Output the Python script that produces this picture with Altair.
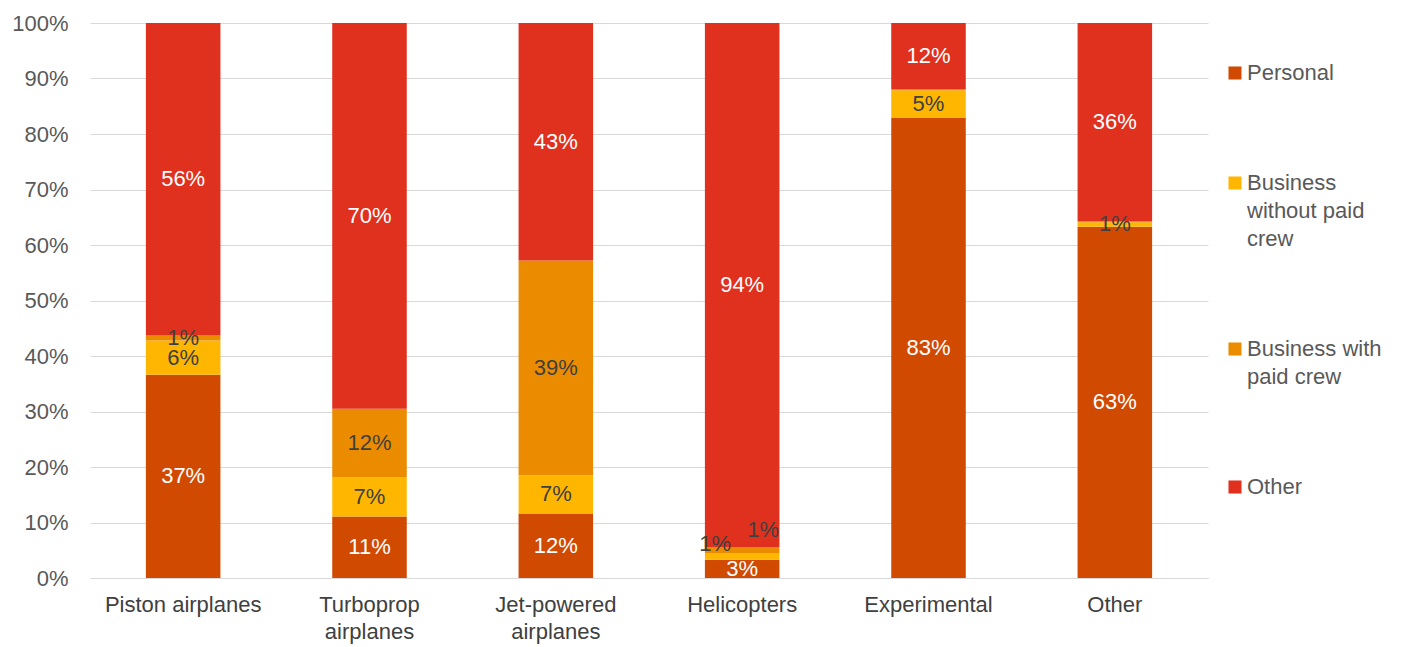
import altair as alt
import pandas as pd

categories = ["Piston airplanes", "Turboprop airplanes", "Jet-powered airplanes",
              "Helicopters", "Experimental", "Other"]
series = ["Personal", "Business without paid crew", "Business with paid crew", "Other"]
personal = [36.6, 11.1, 11.6, 3.3, 82.9, 63.3]
business_no_crew = [6.2, 7.0, 6.9, 1.2, 5.0, 0.8]
business_paid_crew = [0.9, 12.4, 38.7, 1.1, 0.1, 0.2]
other = [56.3, 69.5, 42.8, 94.4, 12.0, 35.7]
colors = ["#D04A02", "#FFB600", "#EB8C00", "#E0301E"]

rows = []
for si, (s, vals) in enumerate(zip(series, [personal, business_no_crew, business_paid_crew, other])):
    for c, v in zip(categories, vals):
        rows.append({"category": c, "series": s, "order": si, "value": v})
df = pd.DataFrame(rows)

FONT = "Liberation Sans"
FS = 22

base = alt.Chart(df).transform_stack(
    stack="value", groupby=["category"], sort=[alt.SortField("order")], as_=["y0", "y1"]
).transform_calculate(
    mid="(datum.y0 + datum.y1) / 2",
    lab="format(datum.value, '.0f') + '%'",
    tcol="(datum.series == 'Personal' || datum.series == 'Other') ? 'white' : '#404040'",
)

x_enc = alt.X("category:N", sort=categories, title=None,
              scale=alt.Scale(paddingInner=0.6, paddingOuter=0.3),
              axis=alt.Axis(labelAngle=0, labelFont=FONT, labelFontSize=FS, labelColor="#404040",
                            ticks=False, domainColor="#D9D9D9", labelPadding=16, labelLineHeight=27,
                            labelExpr="indexof(['Turboprop airplanes','Jet-powered airplanes'], datum.label) >= 0 ? split(datum.label, ' ') : datum.label"))

bars = base.mark_bar().encode(
    x=x_enc,
    y=alt.Y("y0:Q", title=None, scale=alt.Scale(domain=[0, 100], nice=False),
            axis=alt.Axis(values=list(range(0, 101, 10)), labelExpr="datum.value + '%'",
                          labelFont=FONT, labelFontSize=FS, labelColor="#595959",
                          ticks=False, domain=False, gridColor="#D9D9D9", labelPadding=22)),
    y2="y1:Q",
    color=alt.Color("series:N", sort=series, scale=alt.Scale(domain=series, range=colors),
                    legend=alt.Legend(title=None, orient="none", legendX=1134, legendY=39,
                                      labelFont=FONT, labelFontSize=FS, labelColor="#595959",
                                      symbolType="square", symbolSize=170, symbolStrokeWidth=0,
                                      rowPadding=88, labelLimit=200, labelOffset=1,
                                      labelExpr="datum.label == 'Business without paid crew' ? ['Business', 'without paid', 'crew'] : datum.label == 'Business with paid crew' ? ['Business with', 'paid crew'] : datum.label")),
    order=alt.Order("order:Q"),
)

txt_common = dict(font=FONT, fontSize=FS, baseline="middle", align="center")

labels = base.transform_filter(
    "datum.value >= 0.5 && !(datum.category == 'Helicopters' && (datum.order == 1 || datum.order == 2))"
).mark_text(**txt_common).encode(
    x=alt.X("category:N", sort=categories),
    y=alt.Y("mid:Q"),
    text="lab:N",
    color=alt.Color("tcol:N", scale=None),
)

heli1 = base.transform_filter("datum.category == 'Helicopters' && datum.order == 1").mark_text(
    dx=-27, dy=-12, **txt_common).encode(
    x=alt.X("category:N", sort=categories), y=alt.Y("mid:Q"), text="lab:N",
    color=alt.Color("tcol:N", scale=None))
heli2 = base.transform_filter("datum.category == 'Helicopters' && datum.order == 2").mark_text(
    dx=21, dy=-20, **txt_common).encode(
    x=alt.X("category:N", sort=categories), y=alt.Y("mid:Q"), text="lab:N",
    color=alt.Color("tcol:N", scale=None))

chart = alt.layer(bars, labels, heli1, heli2).properties(
    width=1118, height=555,
    autosize=alt.AutoSizeParams(type="none"),
    padding={"left": 90, "top": 23, "right": 200, "bottom": 69},
    background="white",
).configure(style={"guide-label": {"lineHeight": 28}}).configure_view(stroke=None)

chart.save("out.html", embed_options={"renderer": "svg", "actions": False})
